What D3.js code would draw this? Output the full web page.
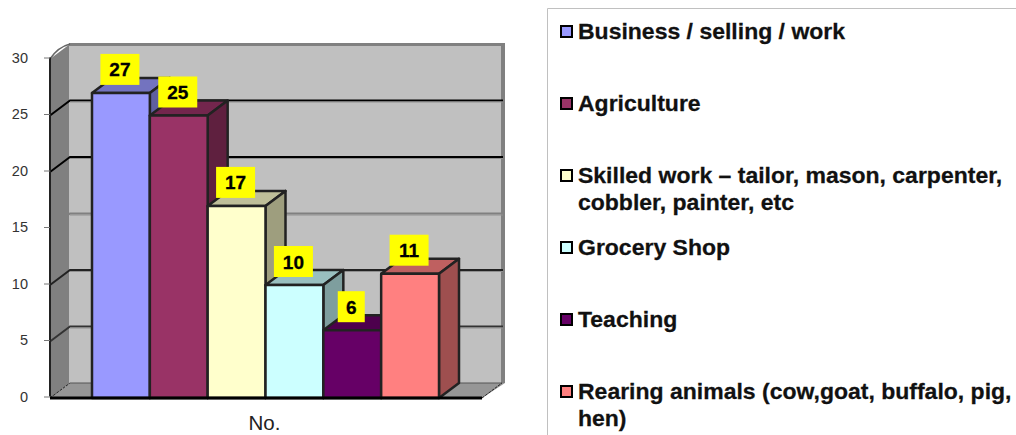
<!DOCTYPE html>
<html><head><meta charset="utf-8">
<script src="https://cdnjs.cloudflare.com/ajax/libs/d3/7.8.5/d3.min.js"></script>
<style>html,body{margin:0;padding:0;background:#fff}svg{display:block}text{font-family:"Liberation Sans",Arial,sans-serif}</style>
</head><body><div id="chart"></div>
<script>
const categories = ["Business / selling / work","Agriculture","Skilled work – tailor, mason, carpenter, cobbler, painter, etc","Grocery Shop","Teaching","Rearing animals (cow,goat, buffalo, pig, hen)"];
const values = [27,25,17,10,6,11];
const colors = ["#9999ff","#993366","#ffffcc","#ccffff","#660066","#ff8080"];
const legendLines = [["Business / selling / work"],["Agriculture"],["Skilled work – tailor, mason, carpenter,","cobbler, painter, etc"],["Grocery Shop"],["Teaching"],["Rearing animals (cow,goat, buffalo, pig,","hen)"]];
const yTicks = [0,5,10,15,20,25,30];
const gridColors = {5:"#333",10:"#222",15:"#808080",20:"#000",25:"#000",30:"#808080"};
const xLabel = "No.";

const W=1016,H=435, dx=20, dy=15;
const svg=d3.select("#chart").append("svg").attr("width",W).attr("height",H);
const y=d3.scaleLinear().domain([0,30]).range([398,59]);
const xOuter=d3.scaleBand().domain(categories).range([92,439]).padding(0);
const plotL=50, plotR=482;
const pts=a=>a.map(p=>p.join(",")).join(" ");

// walls
svg.append("polygon").attr("points",pts([[plotL,y(30)],[plotL+dx,y(30)-dy],[plotL+dx,y(0)-dy],[plotL,y(0)]])).attr("fill","#808080");
svg.append("rect").attr("x",plotL+dx-1).attr("y",y(30)-dy).attr("width",plotR+dx-plotL-dx+2).attr("height",y(0)-y(30))
  .attr("fill","#c0c0c0");
// wall frame
svg.append("rect").attr("x",plotL+dx-1).attr("y",y(30)-dy-1).attr("width",plotR-plotL+4).attr("height",3).attr("fill","#808080");
svg.append("rect").attr("x",plotR+dx-1).attr("y",y(30)-dy-1).attr("width",4).attr("height",y(0)-y(30)+1).attr("fill","#808080");
// floor
svg.append("polygon").attr("points",pts([[plotL,y(0)],[plotL+dx,y(0)-dy],[plotR+dx+3,y(0)-dy],[plotR,y(0)]])).attr("fill","#969696");
svg.append("line").attr("x1",plotL+dx).attr("x2",plotR+dx).attr("y1",y(0)-dy).attr("y2",y(0)-dy).attr("stroke","#555").attr("stroke-width",1);
// gridlines
yTicks.filter(t=>t>0&&t<30).forEach(t=>{
  const g=svg.append("g").attr("fill","none");
  g.append("path").attr("d",`M${plotL},${y(t)}L${plotL+dx},${y(t)-dy}H${plotR+dx+1}`).attr("stroke",gridColors[t]).attr("stroke-width",2);
  g.append("line").attr("x1",plotL+dx).attr("x2",plotR+dx+1).attr("y1",y(t)-dy+1.5).attr("y2",y(t)-dy+1.5).attr("stroke","#909090").attr("stroke-width",1);
});
svg.append("line").attr("x1",plotL).attr("x2",plotL+dx).attr("y1",y(0)).attr("y2",y(0)-dy).attr("stroke","#222").attr("stroke-dasharray","3 1");
svg.append("line").attr("x1",plotR).attr("x2",plotR+dx).attr("y1",y(0)).attr("y2",y(0)-dy).attr("stroke","#222").attr("stroke-dasharray","3 1");
svg.append("path").attr("d",`M${plotL},${y(30)}Q${plotL+8},${y(30)-12} ${plotL+dx},${y(30)-dy}`).attr("fill","none").attr("stroke","#666").attr("stroke-width",1.5);

// bars
const bw=xOuter.bandwidth();
const bar=svg.selectAll("g.bar").data(categories).join("g").attr("class","bar");
const dk=(c,k)=>{const r=d3.rgb(c);return d3.rgb(r.r*k,r.g*k,r.b*k).formatHex();};
const line={stroke:"#222","stroke-width":2.5,"stroke-linejoin":"round"};
const sty=s=>{for(const k in line)s.attr(k,line[k]);return s;};
bar.each(function(c,i){
  const g=d3.select(this), x0=xOuter(c), x1=x0+bw, t=y(values[i]), b=y(0);
  sty(g.append("polygon").attr("points",pts([[x0,t],[x0+dx,t-dy],[x1+dx,t-dy],[x1,t]])).attr("fill",dk(colors[i],.75)));
  sty(g.append("polygon").attr("points",pts([[x1,t],[x1+dx,t-dy],[x1+dx,b-dy],[x1,b]])).attr("fill",dk(colors[i],.62)));
  sty(g.append("rect").attr("x",x0).attr("y",t).attr("width",bw).attr("height",b-t).attr("fill",colors[i]));
});

// base axis line
svg.append("line").attr("x1",plotL).attr("x2",plotR).attr("y1",y(0)).attr("y2",y(0)).attr("stroke","#000").attr("stroke-width",3);

// y axis
const axis=svg.append("g").attr("transform",`translate(${plotL},-1.5)`)
  .call(d3.axisLeft(y).tickValues(yTicks).tickSize(6).tickPadding(16));
axis.select(".domain").attr("stroke","#222").attr("stroke-width",2).attr("d",`M0,${y(30)}V${y(0)}`);
axis.selectAll(".tick line").attr("stroke","#777");
axis.selectAll("text").attr("font-size",14.5).attr("fill","#333").style("font-family",'"Liberation Sans",Arial,sans-serif');

// data labels
const lab=svg.selectAll("g.lab").data(categories).join("g").attr("class","lab");
lab.each(function(c,i){
  const g=d3.select(this), cx=xOuter(c)+bw/2-1, t=y(values[i]);
  const w=String(values[i]).length>1?39:27;
  g.append("rect").attr("x",cx-w/2).attr("y",t-39).attr("width",w).attr("height",31).attr("fill","#ffff00");
  g.append("text").attr("x",cx).attr("y",t-16.5).attr("text-anchor","middle").attr("font-size",19).attr("font-weight","bold").attr("fill","#000").attr("stroke","#000").attr("stroke-width",.3).text(values[i]);
});

svg.append("text").attr("x",264.5).attr("y",430).attr("text-anchor","middle").attr("font-size",20.5).attr("fill","#222").text(xLabel);

// legend
svg.append("path").attr("d",`M${W},8.5H547.5V${H}`).attr("fill","none").attr("stroke","#c0c0c0").attr("stroke-width",1);
const ly=d3.scalePoint().domain(categories).range([32,392]);
const leg=svg.selectAll("g.leg").data(categories).join("g").attr("class","leg").attr("transform",c=>`translate(0,${ly(c)})`);
leg.append("rect").attr("x",561).attr("y",-6).attr("width",11).attr("height",11).attr("fill",(c,i)=>colors[i]).attr("stroke","#000").attr("stroke-width",2);
leg.each(function(c,i){
  d3.select(this).selectAll("text").data(legendLines[i]).join("text").attr("transform",(d,j)=>`translate(578,${7+j*27}) scale(1.08,1)`)
    .attr("font-size",21.3).attr("font-weight","bold").attr("fill","#111").attr("stroke","#111").attr("stroke-width",.25).text(d=>d);
});
</script></body></html>
